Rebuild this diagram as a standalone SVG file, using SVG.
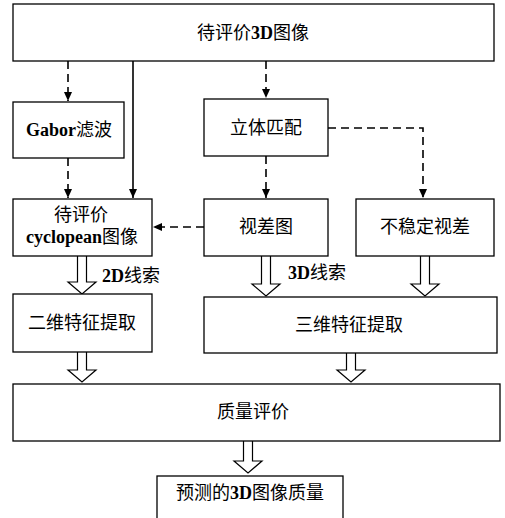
<svg xmlns="http://www.w3.org/2000/svg" width="505" height="518" viewBox="0 0 505 518">
<style>
.box{fill:#fff;stroke:#000;stroke-width:1.3}
.t{font-family:"Liberation Serif","Noto Sans CJK SC",serif;font-size:18px;fill:#000;text-anchor:middle;dominant-baseline:central}
.b{font-weight:bold}
.dash{fill:none;stroke:#000;stroke-width:1.6;stroke-dasharray:8,5}
.solid{fill:none;stroke:#000;stroke-width:1.6}
.hol{fill:#fff;stroke:#000;stroke-width:1.2}
</style>
<defs>
<marker id="ah" markerWidth="10" markerHeight="10" refX="9" refY="5" orient="auto" markerUnits="userSpaceOnUse">
<path d="M0,1 L9,5 L0,9 Z" fill="#000"/>
</marker>
</defs>
<rect width="505" height="518" fill="#fff"/>
<g id="connectors">
<line class="dash" x1="68" y1="61" x2="68" y2="101" marker-end="url(#ah)"/>
<line class="solid" x1="133" y1="61" x2="133" y2="198" marker-end="url(#ah)"/>
<line class="dash" x1="266" y1="61" x2="266" y2="98" marker-end="url(#ah)"/>
<line class="dash" x1="68" y1="158" x2="68" y2="198" marker-end="url(#ah)"/>
<line class="dash" x1="266" y1="156" x2="266" y2="198" marker-end="url(#ah)"/>
<polyline class="dash" points="328,128 423,128 423,198" marker-end="url(#ah)"/>
<line class="dash" x1="204" y1="227" x2="153" y2="227" marker-end="url(#ah)"/>
<path class="hol" d="M77.5,256 V282 H68 L82,294 L96,282 H86.5 V256"/>
<path class="hol" d="M261.5,256 V284 H252 L266,296 L280,284 H270.5 V256"/>
<path class="hol" d="M420.5,256 V284 H411 L425,296 L439,284 H429.5 V256"/>
<path class="hol" d="M77.5,352 V370 H68 L82,382 L96,370 H86.5 V352"/>
<path class="hol" d="M346.5,353 V370 H337 L351,382 L365,370 H355.5 V353"/>
<path class="hol" d="M243.5,441 V461 H234 L248,473 L262,461 H252.5 V441"/>
<text class="t" x="131" y="276"><tspan class="b">2D</tspan>线索</text>
<text class="t" x="317" y="273"><tspan class="b">3D</tspan>线索</text>
</g>
<g id="n_top"><rect class="box" x="13" y="4" width="481" height="57"/><text class="t" x="253" y="33">待评价<tspan class="b">3D</tspan>图像</text></g>
<g id="n_gabor"><rect class="box" x="13" y="102" width="111" height="56"/><text class="t" x="69" y="130"><tspan class="b">Gabor</tspan>滤波</text></g>
<g id="n_stereo"><rect class="box" x="204" y="99" width="124" height="57"/><text class="t" x="266" y="128">立体匹配</text></g>
<g id="n_cyclo"><rect class="box" x="13" y="199" width="139" height="57"/><text class="t" x="81" y="215">待评价</text><text class="t" x="82" y="237"><tspan class="b">cyclopean</tspan>图像</text></g>
<g id="n_disp"><rect class="box" x="204" y="199" width="124" height="57"/><text class="t" x="266" y="227">视差图</text></g>
<g id="n_unstable"><rect class="box" x="356" y="199" width="138" height="57"/><text class="t" x="425" y="227">不稳定视差</text></g>
<g id="n_2d"><rect class="box" x="13" y="294" width="139" height="58"/><text class="t" x="82" y="323">二维特征提取</text></g>
<g id="n_3d"><rect class="box" x="204" y="297" width="293" height="56"/><text class="t" x="349" y="325">三维特征提取</text></g>
<g id="n_quality"><rect class="box" x="13" y="384" width="487" height="57"/><text class="t" x="253" y="412">质量评价</text></g>
<g id="n_pred"><rect class="box" x="157" y="476" width="186" height="50"/><text class="t" x="250" y="493">预测的<tspan class="b">3D</tspan>图像质量</text></g>
</svg>
